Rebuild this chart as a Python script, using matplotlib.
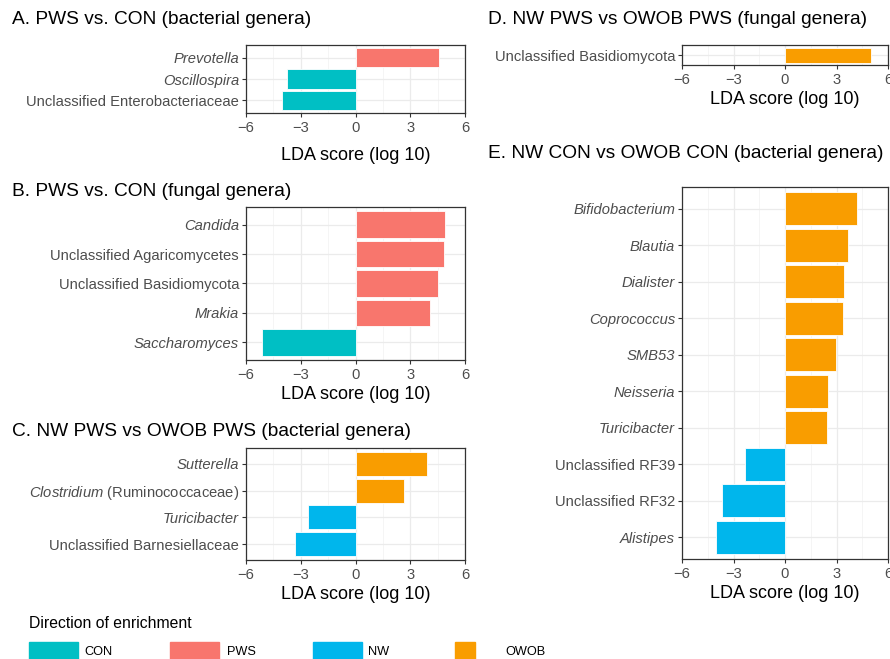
import matplotlib
matplotlib.use("Agg")
import matplotlib.pyplot as plt
from matplotlib.patches import Rectangle
from matplotlib.ticker import MultipleLocator

plt.rcParams['font.family'] = ['Liberation Sans', 'DejaVu Sans']
plt.rcParams['mathtext.fontset'] = 'custom'
plt.rcParams['mathtext.rm'] = 'Liberation Sans'
plt.rcParams['mathtext.it'] = 'Liberation Sans:italic'

# colours per group
colours = {'CON': '#00BFC4', 'PWS': '#F8766D', 'NW': '#00B6EC', 'OWOB': '#F99D00'}

# panel data, listed top to bottom
a_labels = ['Prevotella', 'Oscillospira', 'Unclassified Enterobacteriaceae']
a_values = [4.56, -3.78, -4.04]
a_groups = ['PWS', 'CON', 'CON']

b_labels = ['Candida', 'Unclassified Agaricomycetes', 'Unclassified Basidiomycota', 'Mrakia', 'Saccharomyces']
b_values = [4.93, 4.84, 4.53, 4.07, -5.13]
b_groups = ['PWS', 'PWS', 'PWS', 'PWS', 'CON']

c_labels = ['Sutterella', r'$\it{Clostridium}$ (Ruminococcaceae)', 'Turicibacter', 'Unclassified Barnesiellaceae']
c_values = [3.94, 2.65, -2.60, -3.33]
c_groups = ['OWOB', 'OWOB', 'NW', 'NW']

d_labels = ['Unclassified Basidiomycota']
d_values = [5.01]
d_groups = ['OWOB']

e_labels = ['Bifidobacterium', 'Blautia', 'Dialister', 'Coprococcus', 'SMB53', 'Neisseria',
            'Turicibacter', 'Unclassified RF39', 'Unclassified RF32', 'Alistipes']
e_values = [4.17, 3.65, 3.42, 3.36, 2.97, 2.52, 2.43, -2.33, -3.67, -4.00]
e_groups = ['OWOB'] * 7 + ['NW'] * 3

italic_names = ['Prevotella', 'Oscillospira', 'Candida', 'Mrakia', 'Saccharomyces', 'Sutterella',
                'Turicibacter', 'Bifidobacterium', 'Blautia', 'Dialister', 'Coprococcus', 'SMB53',
                'Neisseria', 'Alistipes']

legend_groups = ['CON', 'PWS', 'NW', 'OWOB']

W, H = 890, 659
fig = plt.figure(figsize=(W / 100, H / 100), dpi=100)


def px_axes(left, top, right, bottom):
    return fig.add_axes([left / W, 1 - bottom / H, (right - left) / W, (bottom - top) / H])


def panel(ax, labels, values, groups, title, title_xy, lpad=3):
    n = len(labels)
    pos = list(range(n, 0, -1))
    ax.barh(pos, values, height=0.9, color=[colours[g] for g in groups],
            edgecolor='white', linewidth=0.6, zorder=3)
    ax.set_xlim(-6, 6)
    ax.set_ylim(0.4, n + 0.6)
    ax.xaxis.set_minor_locator(MultipleLocator(1.5))
    ax.set_xticks([-6, -3, 0, 3, 6])
    ax.set_xticklabels(['\u22126', '\u22123', '0', '3', '6'])
    ax.set_yticks(pos)
    ax.set_yticklabels(labels)
    for lab in ax.get_yticklabels():
        if lab.get_text() in italic_names:
            lab.set_fontstyle('italic')
    ax.grid(True, which='major', color='#EBEBEB', lw=0.9, zorder=0)
    ax.grid(True, which='minor', axis='x', color='#F2F2F2', lw=0.5, zorder=0)
    ax.set_axisbelow(True)
    for s in ax.spines.values():
        s.set_color('#333333')
        s.set_linewidth(0.9)
    ax.tick_params(which='major', length=3, width=0.8, color='#333333',
                   labelcolor='#4D4D4D', labelsize=10.6)
    ax.tick_params(axis='x', pad=2.6)
    ax.tick_params(axis='y', pad=2)
    ax.tick_params(which='minor', length=0)
    ax.set_xlabel('LDA score (log 10)', fontsize=13, labelpad=lpad)
    fig.text(title_xy[0] / W, 1 - title_xy[1] / H, title, fontsize=13.8, va='center', ha='left')


ax_a = px_axes(246, 45, 465, 113)
panel(ax_a, a_labels, a_values, a_groups, 'A. PWS vs. CON (bacterial genera)', (12, 20), lpad=8.5)

ax_b = px_axes(246, 207, 465, 360)
panel(ax_b, b_labels, b_values, b_groups, 'B. PWS vs. CON (fungal genera)', (12, 191))

ax_c = px_axes(246, 448, 465, 560)
panel(ax_c, c_labels, c_values, c_groups, 'C. NW PWS vs OWOB PWS (bacterial genera)', (12, 432))

ax_d = px_axes(682, 45, 888, 65)
panel(ax_d, d_labels, d_values, d_groups, 'D. NW PWS vs OWOB PWS (fungal genera)', (488, 20))

ax_e = px_axes(682, 187, 888, 559)
panel(ax_e, e_labels, e_values, e_groups, 'E. NW CON vs OWOB CON (bacterial genera)', (488, 153))

# legend at the bottom
fig.text(29 / W, 1 - 624 / H, 'Direction of enrichment', fontsize=11.3, va='center', ha='left')
key_x = [29, 170, 313, 455]
key_w = [49, 49, 49, 20]
text_x = [84, 227, 368, 505]
for g, kx, kw, tx in zip(legend_groups, key_x, key_w, text_x):
    fig.patches.append(Rectangle((kx / W, 1 - 659 / H), kw / W, 17 / H,
                                 transform=fig.transFigure, color=colours[g]))
    fig.text(tx / W, 1 - 652 / H, g, fontsize=9.2, va='center', ha='left')

fig.savefig('out.png', dpi=100)
